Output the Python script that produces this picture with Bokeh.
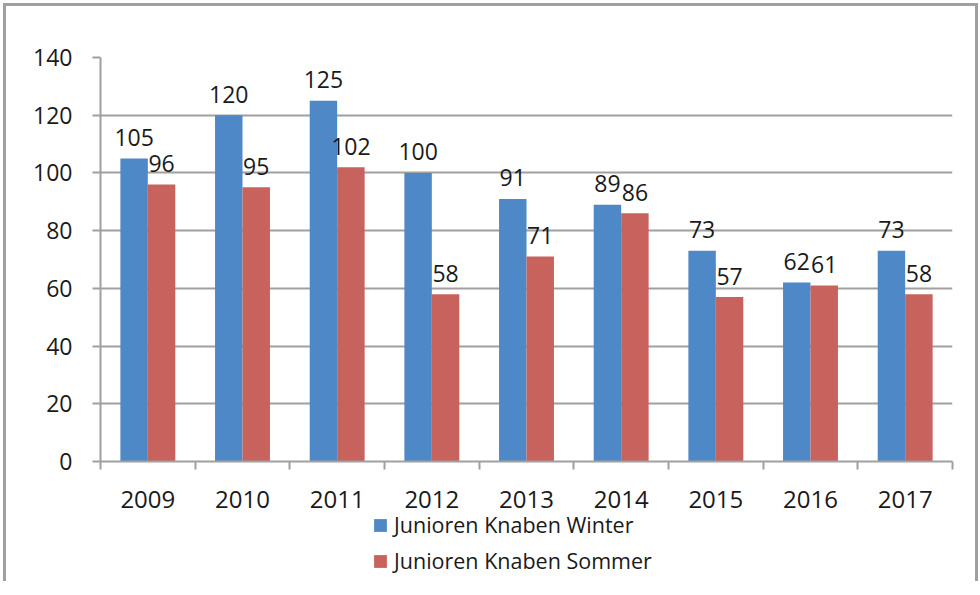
from bokeh.plotting import figure
from bokeh.models import (Range1d, LinearAxis, FixedTicker, Legend, LegendItem,
                          ColumnDataSource, Grid)
from bokeh.layouts import column
from bokeh.core.properties import value
from bokeh.embed import file_html
from bokeh.resources import INLINE

years = ["2009", "2010", "2011", "2012", "2013", "2014", "2015", "2016", "2017"]
winter = [105, 120, 125, 100, 91, 89, 73, 62, 73]
sommer = [96, 95, 102, 58, 71, 86, 57, 61, 58]
y_ticks = [0, 20, 40, 60, 80, 100, 120, 140]
series_names = ["Junioren Knaben Winter", "Junioren Knaben Sommer"]

BLUE = "#4F88C6"
RED = "#C8625D"
GRID = "#A0A0A0"
FONT = "Open Sans"

idx = list(range(len(years)))
centers = [i + 0.5 for i in idx]
bw = 0.29
src = ColumnDataSource(dict(
    xw=[c - bw / 2 for c in centers],
    xs=[c + bw / 2 for c in centers],
    w=winter, s=sommer,
    wl=[str(v) for v in winter], sl=[str(v) for v in sommer],
))

p = figure(frame_width=852, frame_height=404, output_backend="svg", toolbar_location=None,
           x_range=Range1d(0, len(years)), y_range=Range1d(0, 140),
           x_axis_type=None, y_axis_type=None,
           min_border_left=94, min_border_right=23, min_border_top=51, min_border_bottom=58)
p.outline_line_color = None
p.background_fill_color = "white"
p.border_fill_color = "white"

yaxis = LinearAxis(ticker=FixedTicker(ticks=y_ticks))
yaxis.axis_line_color = GRID
yaxis.axis_line_width = 2
yaxis.major_tick_line_color = GRID
yaxis.major_tick_line_width = 2
yaxis.major_tick_out = 8
yaxis.major_tick_in = 0
yaxis.minor_tick_line_color = None
yaxis.major_label_standoff = 20
yaxis.major_label_text_font = FONT
yaxis.major_label_text_font_size = "23px"
yaxis.major_label_text_color = "#1a1a1a"
p.add_layout(yaxis, "left")

xaxis = LinearAxis(ticker=FixedTicker(ticks=centers, minor_ticks=list(range(len(years) + 1))))
xaxis.major_label_overrides = {c: y for c, y in zip(centers, years)}
xaxis.axis_line_color = GRID
xaxis.axis_line_width = 2
xaxis.major_tick_line_color = None
xaxis.minor_tick_line_color = GRID
xaxis.minor_tick_line_width = 2
xaxis.minor_tick_out = 8
xaxis.minor_tick_in = 0
xaxis.major_label_standoff = 21
xaxis.major_label_text_font = FONT
xaxis.major_label_text_font_size = "24px"
xaxis.major_label_text_color = "#1a1a1a"
p.add_layout(xaxis, "below")

g = Grid(dimension=1, ticker=FixedTicker(ticks=y_ticks[1:]), grid_line_color=GRID, grid_line_width=2)
p.add_layout(g)

p.vbar(x="xw", top="w", width=bw, source=src, fill_color=BLUE, line_color=None)
p.vbar(x="xs", top="s", width=bw, source=src, fill_color=RED, line_color=None)

for xcol, ycol, tcol in (("xw", "w", "wl"), ("xs", "s", "sl")):
    p.text(x=xcol, y=ycol, text=tcol, source=src, text_align="center",
           text_baseline="alphabetic", y_offset=-21, text_font=value(FONT),
           text_font_size="23px", text_color="#1a1a1a")

# legend strip (its bar renderers use the same data, kept outside its visible range)
lg = figure(width=969, height=76, output_backend="svg", toolbar_location=None,
            x_range=Range1d(100, 101), y_range=Range1d(500, 501),
            x_axis_type=None, y_axis_type=None,
            min_border_left=0, min_border_right=0, min_border_top=0, min_border_bottom=0)
lg.outline_line_color = None
lg.grid.visible = False
lg.background_fill_alpha = 0
lg.border_fill_alpha = 0
lg.styles = {"margin-top": "-14px"}
lw = lg.vbar(x="xw", top="w", width=bw, source=src, fill_color=BLUE, line_color=None)
ls = lg.vbar(x="xs", top="s", width=bw, source=src, fill_color=RED, line_color=None)

legend = Legend(items=[LegendItem(label=series_names[0], renderers=[lw]),
                       LegendItem(label=series_names[1], renderers=[ls])],
                orientation="vertical", location=(272, 6))
legend.label_text_font = FONT
legend.label_text_font_size = "21.5px"
legend.label_text_color = "#1a1a1a"
legend.glyph_width = 16
legend.glyph_height = 16
legend.label_standoff = 6
legend.spacing = 7
legend.padding = 0
legend.margin = 0
legend.border_line_color = None
legend.background_fill_alpha = 0
lg.add_layout(legend, "center")

layout = column(p, lg, spacing=0)
layout.styles = {"border-top": "3px solid #A0A0A0", "border-left": "3px solid #A0A0A0",
                 "border-right": "3px solid #A0A0A0", "background-color": "white",
                 "margin-left": "3px", "margin-top": "3px"}

open("out.html", "w").write(file_html(layout, INLINE))
